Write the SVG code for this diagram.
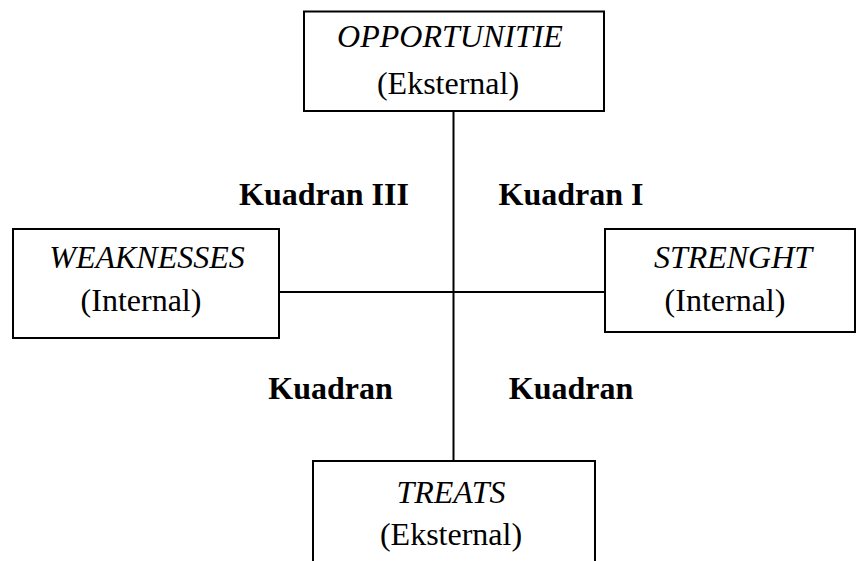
<svg xmlns="http://www.w3.org/2000/svg" width="857" height="561" viewBox="0 0 857 561">
<style>
.box{fill:#fff;stroke:#000;stroke-width:2}
.ln{stroke:#000;stroke-width:2;fill:none}
text{font-family:"Liberation Serif","Times New Roman",serif;font-size:32px;fill:#000;text-anchor:middle}
.it{font-style:italic}
.b{font-weight:bold}
</style>
<rect width="857" height="561" fill="#fff"/>
<g id="connectors">
<line class="ln" x1="453.5" y1="111" x2="453.5" y2="461"/>
<line class="ln" x1="279" y1="292" x2="605" y2="292"/>
</g>
<g id="opportunitie">
<rect class="box" x="304" y="11.5" width="300" height="99.5"/>
<text class="it" x="450" y="47">OPPORTUNITIE</text>
<text x="448" y="94">(Eksternal)</text>
</g>
<g id="weaknesses">
<rect class="box" x="13" y="229" width="266" height="109"/>
<text class="it" x="147" y="268">WEAKNESSES</text>
<text x="141" y="311">(Internal)</text>
</g>
<g id="strenght">
<rect class="box" x="605" y="229" width="250" height="103"/>
<text class="it" x="733" y="268">STRENGHT</text>
<text x="725" y="311">(Internal)</text>
</g>
<g id="treats">
<rect class="box" x="313" y="461" width="282" height="110"/>
<text class="it" x="451" y="503">TREATS</text>
<text x="451" y="545">(Eksternal)</text>
</g>
<g id="labels">
<text class="b" x="324" y="205">Kuadran III</text>
<text class="b" x="571" y="205">Kuadran I</text>
<text class="b" x="330.5" y="399">Kuadran</text>
<text class="b" x="571" y="399">Kuadran</text>
</g>
</svg>
